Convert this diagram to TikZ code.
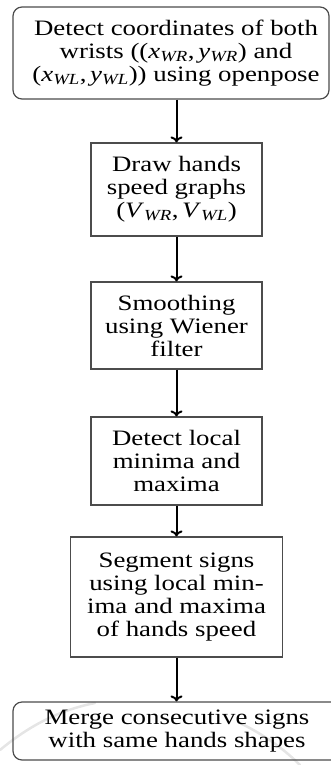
\documentclass[tikz,border=0pt]{standalone}
\usepackage{fontspec}
\setmainfont[FakeStretch=1.22]{Liberation Serif}
\usetikzlibrary{arrows.meta}
\newcommand\mv[2]{\textit{#1}\textsubscript{\textit{#2}}}
\tikzset{
  box/.style={draw=black!70, line width=1.2pt, rectangle, align=center, inner sep=0pt,
    font=\fontsize{22}{23}\selectfont},
  rbox/.style={box, rounded corners=9pt},
  flow/.style={draw=black, line width=2pt, -{To[length=6pt,width=12pt]}},
  wmark/.style={draw=black!10, line width=2.5pt, line cap=round}
}
\begin{document}
\begin{tikzpicture}[x=1pt,y=-1pt]
\useasboundingbox (0,0) rectangle (331,765);
\clip (0,0) rectangle (331,765);
\draw[wmark] (0,750) .. controls (30,725) and (60,710) .. (95,703);
\draw[wmark] (238,722) .. controls (265,735) and (285,750) .. (300,765);
\node[rbox, minimum width=316pt, minimum height=92pt] (top) at (171,53) {};
\node (toptext) at (176,53) [box, draw=none]
  {Detect coordinates of both\\ wrists ((\mv{x}{WR},\,\mv{y}{WR}) and\\ (\mv{x}{WL},\,\mv{y}{WL})) using openpose};
\node[box, minimum width=171pt, minimum height=93pt] (draw) at (176.5,189.5)
  {Draw hands\\ speed graphs\\ (\mv{V}{WR},\,\mv{V}{WL})};
\node[box, minimum width=171pt, minimum height=87pt] (smooth) at (176.5,325.5)
  {Smoothing\\ using Wiener\\ filter};
\node[box, minimum width=171pt, minimum height=88pt] (detect) at (176.5,461)
  {Detect local\\ minima and\\ maxima};
\node[box, minimum width=212pt, minimum height=120pt] (segment) at (176.5,597)
  {Segment signs\\ using local min-\\ ima and maxima\\ of hands speed};
\node[rbox, minimum width=350pt, minimum height=58pt] (merge) at (188,731)
  {};
\node (mergetext) at (177,731) [box, draw=none]
  {Merge consecutive signs\\ with same hands shapes};
\draw[flow] (draw.north |- top.south) -- (draw.north);
\draw[flow] (draw) -- (smooth);
\draw[flow] (smooth) -- (detect);
\draw[flow] (detect) -- (segment);
\draw[flow] (segment) -- (merge.north -| segment.south);
\end{tikzpicture}
\end{document}
